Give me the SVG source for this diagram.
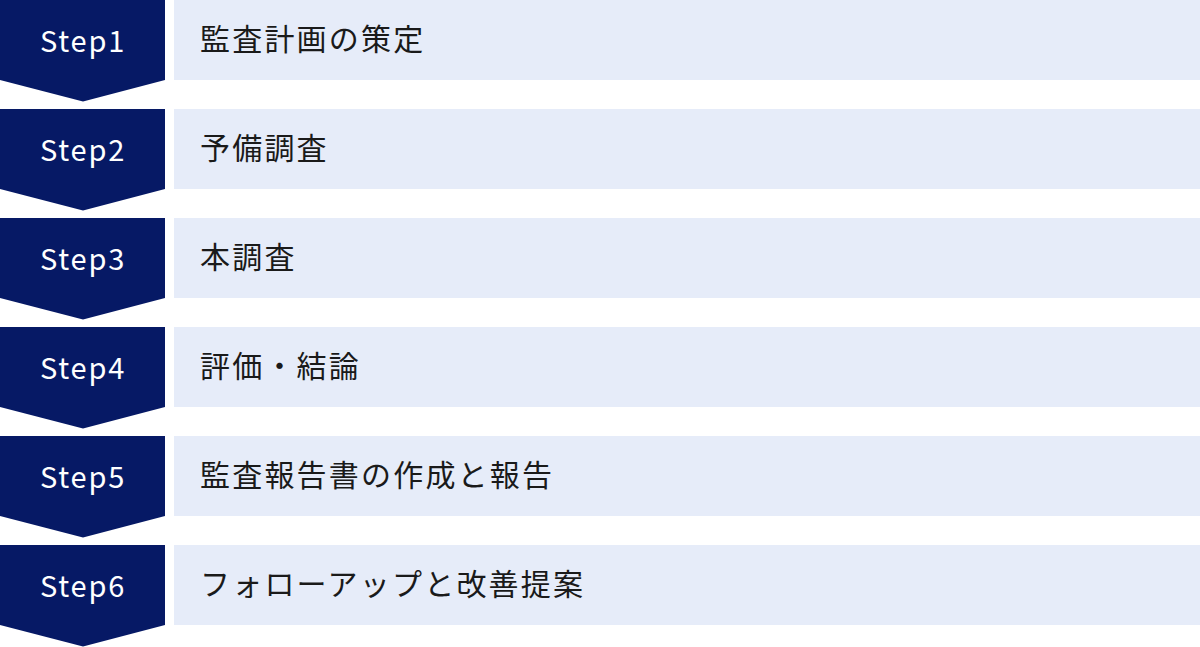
<svg xmlns="http://www.w3.org/2000/svg" width="1200" height="647" viewBox="0 0 1200 647">
<defs>
<style>
.badge{fill:#061965;}
.bar{fill:#e6ecf9;}
.num{fill:#ffffff;font-family:"Noto Sans CJK JP","Noto Sans",sans-serif;font-size:29px;letter-spacing:1.8px;text-anchor:middle;}
.lbl{fill:#1a1a1a;font-family:"Noto Sans CJK JP",sans-serif;font-size:30px;letter-spacing:2.2px;}
</style>
<path id="chev" d="M0 0H165V80L83 101.5L0 80Z"/>
</defs>
<rect width="1200" height="647" fill="#ffffff"/>
<g id="connectors"></g>
<g id="step1" transform="translate(0,0)">
<use href="#chev" class="badge"/><rect class="bar" x="174" y="0" width="1026" height="80"/>
<text class="num" x="83" y="52">Step1</text><text class="lbl" x="200" y="50">監査計画の策定</text>
</g>
<g id="step2" transform="translate(0,109)">
<use href="#chev" class="badge"/><rect class="bar" x="174" y="0" width="1026" height="80"/>
<text class="num" x="83" y="52">Step2</text><text class="lbl" x="200" y="50">予備調査</text>
</g>
<g id="step3" transform="translate(0,218)">
<use href="#chev" class="badge"/><rect class="bar" x="174" y="0" width="1026" height="80"/>
<text class="num" x="83" y="52">Step3</text><text class="lbl" x="200" y="50">本調査</text>
</g>
<g id="step4" transform="translate(0,327)">
<use href="#chev" class="badge"/><rect class="bar" x="174" y="0" width="1026" height="80"/>
<text class="num" x="83" y="52">Step4</text><text class="lbl" x="200" y="50">評価・結論</text>
</g>
<g id="step5" transform="translate(0,436)">
<use href="#chev" class="badge"/><rect class="bar" x="174" y="0" width="1026" height="80"/>
<text class="num" x="83" y="52">Step5</text><text class="lbl" x="200" y="50">監査報告書の作成と報告</text>
</g>
<g id="step6" transform="translate(0,545)">
<use href="#chev" class="badge"/><rect class="bar" x="174" y="0" width="1026" height="80"/>
<text class="num" x="83" y="52">Step6</text><text class="lbl" x="200" y="50">フォローアップと改善提案</text>
</g>
</svg>
